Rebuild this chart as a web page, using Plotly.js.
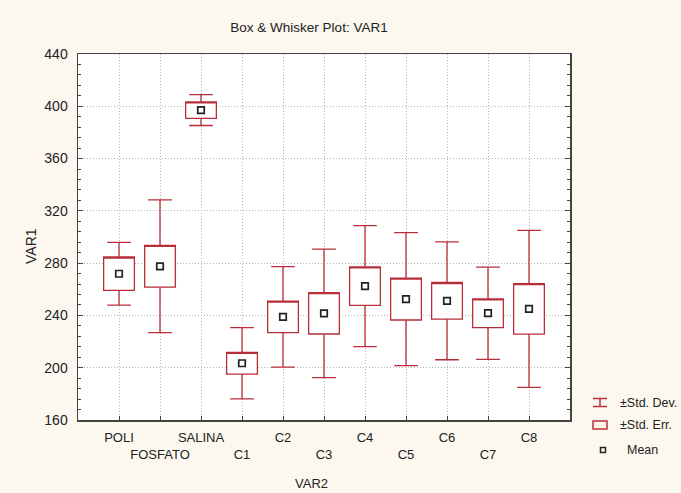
<!DOCTYPE html>
<html><head><meta charset="utf-8">
<script src="https://cdn.plot.ly/plotly-3.0.1.min.js"></script>
<style>html,body{margin:0;padding:0;background:#fcf8ef;} #chart{width:681px;height:493px;}</style>
</head><body><div id="chart"></div>
<script>
const categories = ['POLI','FOSFATO','SALINA','C1','C2','C3','C4','C5','C6','C7','C8'];
const means  = [271.9, 277.6, 397.1, 203.4, 238.9, 241.6, 262.4, 252.5, 251.2, 241.7, 245.0];
const stdErr = [12.8, 16.0, 6.3, 8.3, 12.1, 15.8, 14.7, 16.0, 14.0, 11.0, 19.3];
const stdDev = [24.0, 50.8, 11.8, 27.2, 38.5, 49.2, 46.3, 50.9, 45.1, 35.3, 60.1];
const legendLabels = ['±Std. Dev.', '±Std. Err.', 'Mean'];

const RED = 'rgb(184,46,56)';
const FONT = 'Liberation Sans, Arial, sans-serif';
const W = 681, H = 493;
const M = {l: 78, r: 111, t: 54, b: 73};
const pw = W - M.l - M.r, ph = H - M.t - M.b;
const px = x => (x - M.l) / pw;        // page px -> paper x
const py = y => 1 - (y - M.t) / ph;    // page px -> paper y

const q1 = means.map((m, i) => m - stdErr[i]);
const q3 = means.map((m, i) => m + stdErr[i]);
const lo = means.map((m, i) => m - stdDev[i]);
const hi = means.map((m, i) => m + stdDev[i]);

const traces = [
  {type: 'box', x: categories, q1: q1, median: q3, q3: q3, lowerfence: lo, upperfence: hi,
   width: 0.75, whiskerwidth: 0.77, fillcolor: '#ffffff', line: {color: RED, width: 1.3},
   boxpoints: false, hoverinfo: 'skip', showlegend: false},
  {type: 'scatter', mode: 'markers', x: categories, y: means,
   marker: {symbol: 'square-open', size: 6.5, color: '#222', line: {width: 1.7, color: '#222'}},
   hoverinfo: 'skip', showlegend: false}
];

const shapes = [
  {type: 'line', xref: 'paper', yref: 'paper', x0: px(593), x1: px(607), y0: py(398.5), y1: py(398.5), line: {color: RED, width: 1.5}},
  {type: 'line', xref: 'paper', yref: 'paper', x0: px(600), x1: px(600), y0: py(398.5), y1: py(406.5), line: {color: RED, width: 1.5}},
  {type: 'line', xref: 'paper', yref: 'paper', x0: px(593), x1: px(607), y0: py(406.5), y1: py(406.5), line: {color: RED, width: 1.5}},
  {type: 'rect', xref: 'paper', yref: 'paper', x0: px(593), x1: px(607), y0: py(421), y1: py(429), line: {color: RED, width: 1.5}, fillcolor: '#fcf8ef'},
  {type: 'rect', xref: 'paper', yref: 'paper', x0: px(600.5), x1: px(605.5), y0: py(447.5), y1: py(452.5), line: {color: '#222', width: 1.5}}
];

const annotations = [
  {text: legendLabels[0], xref: 'paper', yref: 'paper', x: px(618), y: py(403), xanchor: 'left', yanchor: 'middle', showarrow: false, font: {family: FONT, size: 12.5, color: '#222'}},
  {text: legendLabels[1], xref: 'paper', yref: 'paper', x: px(618), y: py(425), xanchor: 'left', yanchor: 'middle', showarrow: false, font: {family: FONT, size: 12.5, color: '#222'}},
  {text: legendLabels[2], xref: 'paper', yref: 'paper', x: px(625), y: py(450), xanchor: 'left', yanchor: 'middle', showarrow: false, font: {family: FONT, size: 12.5, color: '#222'}},
  {text: 'VAR2', xref: 'paper', yref: 'paper', x: px(311), y: py(483), xanchor: 'center', yanchor: 'middle', showarrow: false, font: {family: FONT, size: 13, color: '#222'}},
  {text: 'VAR1', xref: 'paper', yref: 'paper', x: px(31), y: py(246), xanchor: 'center', yanchor: 'middle', textangle: -90, showarrow: false, font: {family: FONT, size: 14, color: '#222'}}
];

const layout = {
  width: W, height: H, margin: M,
  paper_bgcolor: '#fcf8ef', plot_bgcolor: '#ffffff',
  font: {family: FONT, size: 13, color: '#222'},
  title: {text: 'Box & Whisker Plot: VAR1', x: 309 / W, xanchor: 'center', xref: 'container',
          y: 1 - 27 / H, yanchor: 'middle', yref: 'container', font: {family: FONT, size: 13.5, color: '#222'}},
  showlegend: false,
  xaxis: {type: 'category', range: [-1, categories.length], tickvals: categories,
          ticktext: categories.map((c, i) => i % 2 ? '<br>' + c : c), tickangle: 0,
          ticklabelstandoff: 5,
          showgrid: true, gridcolor: '#b4b4b4', griddash: '1px,2px', gridwidth: 1,
          showline: true, linecolor: '#444', linewidth: 1.5, mirror: true,
          ticks: 'inside', ticklen: 4, tickcolor: '#444', tickfont: {family: FONT, size: 13, color: '#222'},
          zeroline: false, fixedrange: true},
  yaxis: {range: [160, 440], tick0: 160, dtick: 40,
          showgrid: true, gridcolor: '#b4b4b4', griddash: '1px,2px', gridwidth: 1,
          showline: true, linecolor: '#444', linewidth: 1.5, mirror: 'ticks',
          ticks: 'inside', ticklen: 5, tickcolor: '#444', ticklabelstandoff: 6,
          minor: {dtick: 8, ticks: 'inside', ticklen: 3, tickcolor: '#444', showgrid: false},
          tickfont: {family: FONT, size: 14, color: '#222'}, zeroline: false, fixedrange: true},
  shapes: shapes,
  annotations: annotations
};

Plotly.newPlot('chart', traces, layout, {staticPlot: true, displayModeBar: false});
</script>
</body></html>
